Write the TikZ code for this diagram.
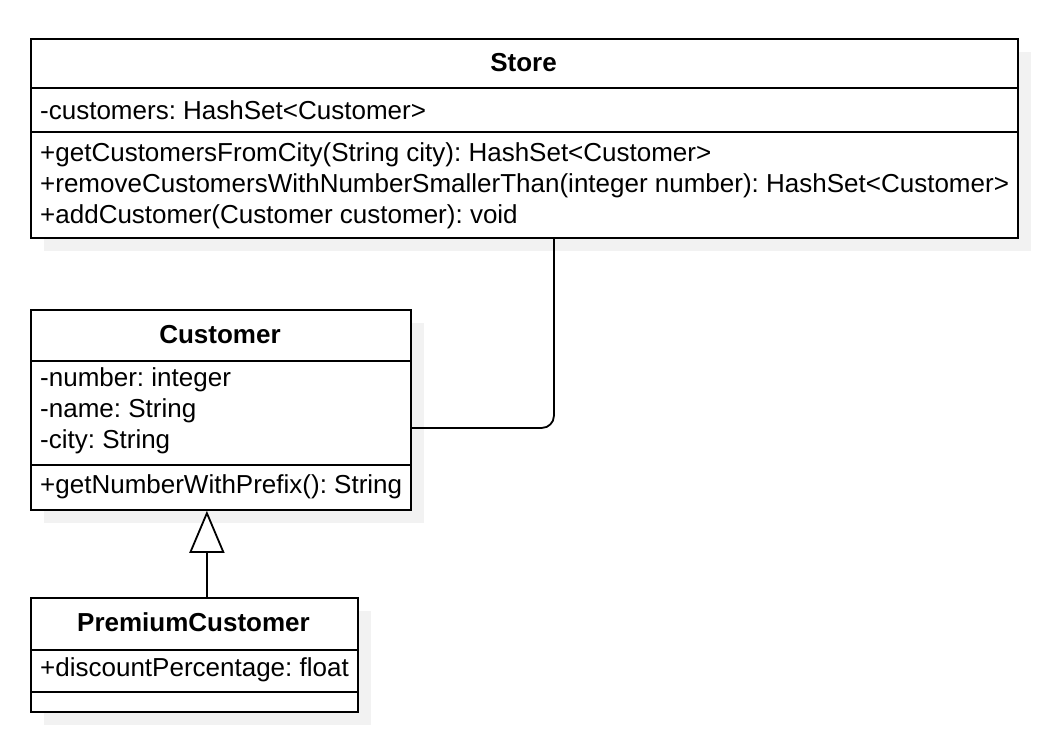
\documentclass[tikz,border=0pt]{standalone}
\usepackage{fontspec}
\setmainfont{Liberation Sans}
\usetikzlibrary{arrows.meta, positioning, calc}

\newcommand{\umlfont}{\fontsize{26}{31}\selectfont\frenchspacing}

\tikzset{
  classbox/.style={draw, line width=1.8pt, fill=white, anchor=north west, inner sep=0pt},
  shadowbox/.style={fill=black!5},
  divider/.style={line width=1.8pt},
  membertext/.style={anchor=west, align=left, inner sep=0pt},
  classname/.style={font=\umlfont\bfseries, inner sep=0pt},
}

\begin{document}
\begin{tikzpicture}[x=1pt, y=-1pt, font=\umlfont]
\useasboundingbox (0,0) rectangle (1064,750);

% Shadows
\fill[shadowbox] (44,52) rectangle (1031,251);
\fill[shadowbox] (44,323) rectangle (424,523);
\fill[shadowbox] (44,611) rectangle (371,725);

% Store
\node[classbox, minimum width=987pt, minimum height=199pt] (store) at (30,38) {};
\draw[divider] (30,88) -- (1017,88);
\draw[divider] (30,132) -- (1017,132);
\node[classname] (storename) at (523.5,63) {Store};
\node[membertext] (storeattr) at (40,110) {-customers: HashSet<Customer>};
\node[membertext] (storeops) at (40,186) {+getCustomersFromCity(String city): HashSet<Customer>\\
+removeCustomersWithNumberSmallerThan(integer number): HashSet<Customer>\\
+addCustomer(Customer customer): void};

% Customer
\node[classbox, minimum width=380pt, minimum height=200pt] (customer) at (30,309) {};
\draw[divider] (30,361) -- (410,361);
\draw[divider] (30,465) -- (410,465);
\node[classname] (customername) at (220,335) {Customer};
\node[membertext] (customerattr) at (40,411) {-number: integer\\-name: String\\-city: String};
\node[membertext] (customerops) at (40,487) {+getNumberWithPrefix(): String};

% PremiumCustomer
\node[classbox, minimum width=327pt, minimum height=114pt] (premium) at (30,597) {};
\draw[divider] (30,650) -- (357,650);
\draw[divider] (30,692) -- (357,692);
\node[classname] (premiumname) at (193.5,622) {PremiumCustomer};
\node[membertext] (premiumattr) at (40,670) {+discountPercentage: float};

% Association
\draw[divider, rounded corners=12pt] ([yshift=-18pt]customer.east) -| ([xshift=29.5pt]store.south);

% Generalization
\draw[divider, -{Triangle[open, length=42pt, width=35pt, fill=white]}]
  ([xshift=12.5pt]premium.north) -- ([xshift=12.5pt]premium.north |- customer.south);
\end{tikzpicture}
\end{document}
